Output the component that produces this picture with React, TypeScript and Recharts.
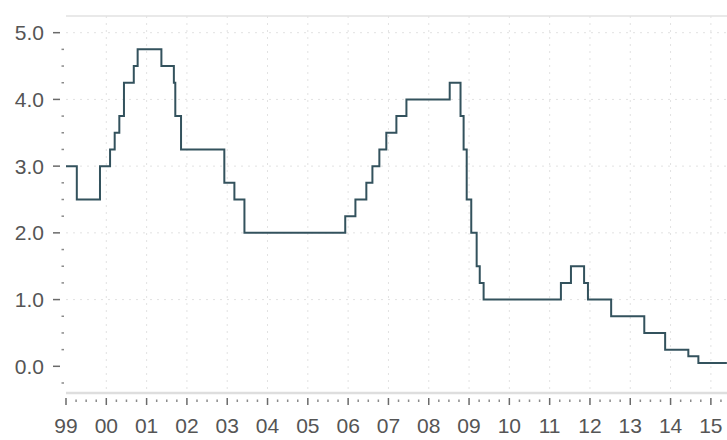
import { LineChart, Line, XAxis, YAxis, CartesianGrid } from "recharts";

// ECB main refinancing rate, change dates and new rate (%)
const changeDates = [
  "1999-01-01", "1999-04-09", "1999-11-05", "2000-02-04", "2000-03-17",
  "2000-04-28", "2000-06-09", "2000-09-06", "2000-10-11", "2001-05-15",
  "2001-09-05", "2001-09-18", "2001-11-09", "2002-12-06", "2003-03-07",
  "2003-06-06", "2005-12-06", "2006-03-08", "2006-06-15", "2006-08-09",
  "2006-10-11", "2006-12-13", "2007-03-14", "2007-06-13", "2008-07-09",
  "2008-10-15", "2008-11-12", "2008-12-10", "2009-01-21", "2009-03-11",
  "2009-04-08", "2009-05-13", "2011-04-13", "2011-07-13", "2011-11-09",
  "2011-12-14", "2012-07-11", "2013-05-08", "2013-11-13", "2014-06-11",
  "2014-09-10", "2015-05-26",
];
const rates = [
  3.0, 2.5, 3.0, 3.25, 3.5,
  3.75, 4.25, 4.5, 4.75, 4.5,
  4.25, 3.75, 3.25, 2.75, 2.5,
  2.0, 2.25, 2.5, 2.75, 3.0,
  3.25, 3.5, 3.75, 4.0, 4.25,
  3.75, 3.25, 2.5, 2.0, 1.5,
  1.25, 1.0, 1.25, 1.5, 1.25,
  1.0, 0.75, 0.5, 0.25, 0.15,
  0.05, 0.05,
];

const years = [1999, 2000, 2001, 2002, 2003, 2004, 2005, 2006, 2007, 2008, 2009, 2010, 2011, 2012, 2013, 2014, 2015];
const yearLabels = ["99", "00", "01", "02", "03", "04", "05", "06", "07", "08", "09", "10", "11", "12", "13", "14", "15"];
const yMajor = [0, 1, 2, 3, 4, 5];
const yLabels = ["0.0", "1.0", "2.0", "3.0", "4.0", "5.0"];

const toYear = (s: string) => {
  const [y, m, d] = s.split("-").map(Number);
  return y + (Date.UTC(y, m - 1, d) - Date.UTC(y, 0, 1)) / (365.25 * 864e5);
};

const data = changeDates.map((d, i) => ({ t: toYear(d), rate: rates[i] }));

const xTicks = years.flatMap((y) => [y, y + 0.25, y + 0.5, y + 0.75]);
const yTicks = [-0.25, ...yMajor.flatMap((v) => [v, v + 0.25, v + 0.5, v + 0.75])].filter((v) => v <= 5);

const font = "Arial, 'Liberation Sans', sans-serif";
const textColor = "#555";

const XTick = (props: any) => {
  const { x, y, payload } = props;
  const v = payload.value;
  const i = years.indexOf(v);
  if (i < 0) {
    return <line x1={x} x2={x} y1={y + 6.5} y2={y + 9} stroke="#8a8a8a" strokeWidth={1.5} />;
  }
  return (
    <g>
      <line x1={x} x2={x} y1={y + 5} y2={y + 12} stroke="#6a6a6a" strokeWidth={1.5} />
      <text x={x} y={y + 40} textAnchor="middle" fontFamily={font} fontSize={21} fill={textColor}>
        {yearLabels[i]}
      </text>
    </g>
  );
};

const YTick = (props: any) => {
  const { x, y, payload } = props;
  const v = payload.value;
  const i = yMajor.indexOf(v);
  if (i < 0) {
    return <line x1={x - 4.5} x2={x - 2} y1={y} y2={y} stroke="#8a8a8a" strokeWidth={1.5} />;
  }
  return (
    <g>
      <line x1={x - 13} x2={x - 6} y1={y} y2={y} stroke="#6a6a6a" strokeWidth={1.5} />
      <text x={x - 22} y={y + 7.5} textAnchor="end" fontFamily={font} fontSize={21} fill={textColor}>
        {yLabels[i]}
      </text>
    </g>
  );
};

export default function App() {
  return (
    <div style={{ position: "absolute", left: 0, top: 0, width: 727, height: 440, background: "#fff" }}>
      <LineChart width={727} height={440} data={data} margin={{ top: 15, right: 0, bottom: 0, left: 0 }}>
        <CartesianGrid
          stroke="#e2e2e2"
          strokeDasharray="2 5"
          verticalValues={years.slice(1)}
          horizontalValues={yMajor.slice(1)}
        />
        <XAxis
          dataKey="t"
          type="number"
          domain={[1999, 2015.4]}
          allowDataOverflow
          ticks={xTicks}
          interval={0}
          tick={<XTick />}
          tickLine={false}
          tickSize={0}
          tickMargin={0}
          height={47}
          axisLine={{ stroke: "#dedede", strokeWidth: 2.5 }}
        />
        <XAxis
          xAxisId="top"
          orientation="top"
          type="number"
          domain={[1999, 2015.4]}
          height={1}
          tick={false}
          tickLine={false}
          axisLine={{ stroke: "#e2e2e2", strokeWidth: 1.5 }}
        />
        <YAxis
          type="number"
          domain={[-0.4, 5.25]}
          allowDataOverflow
          ticks={yTicks}
          interval={0}
          tick={<YTick />}
          tickLine={false}
          tickSize={0}
          tickMargin={0}
          width={66}
          axisLine={false}
        />
        <Line
          type="stepAfter"
          dataKey="rate"
          stroke="#33525d"
          strokeWidth={2}
          dot={false}
          isAnimationActive={false}
        />
      </LineChart>
    </div>
  );
}
